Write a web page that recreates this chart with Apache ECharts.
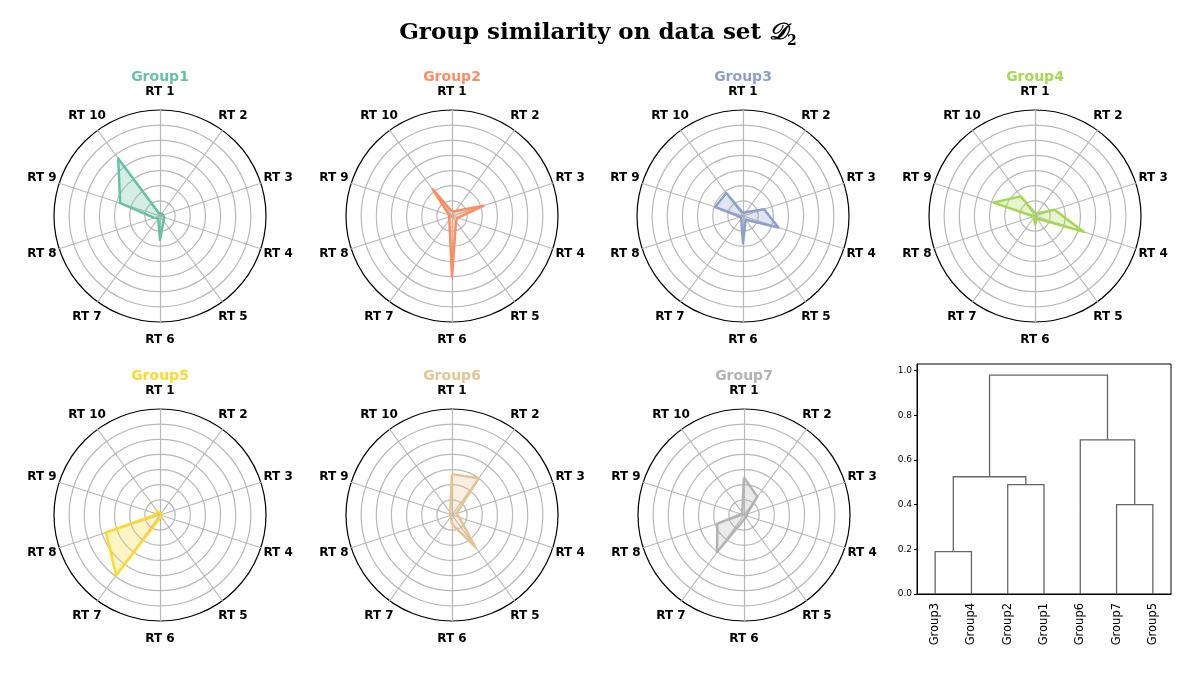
<!DOCTYPE html>
<html>
<head>
<meta charset="utf-8">
<script src="https://cdn.jsdelivr.net/npm/echarts@6/dist/echarts.min.js"></script>
<style>
  html, body { margin: 0; padding: 0; background: #fff; }
  #chart { width: 1200px; height: 673px; }
</style>
</head>
<body>
<div id="chart"></div>
<script>
// radar axes, clockwise from the top
const rtLabels = ['RT 1', 'RT 2', 'RT 3', 'RT 4', 'RT 5', 'RT 6', 'RT 7', 'RT 8', 'RT 9', 'RT 10'];
const groupNames = ['Group1', 'Group2', 'Group3', 'Group4', 'Group5', 'Group6', 'Group7'];

// values per RT 1..RT 10
const group1 = [0.01, 0.02, 0.02, 0.03, 0.04, 0.157, 0.02, 0.04, 0.276, 0.47];
const group2 = [0.03, 0.04, 0.22, 0.04, 0.045, 0.40, 0.03, 0.02, 0.02, 0.217];
const group3 = [0.02, 0.03, 0.146, 0.246, 0.03, 0.18, 0.02, 0.02, 0.193, 0.188];
const group4 = [0.02, 0.02, 0.135, 0.34, 0.02, 0.055, 0.01, 0.01, 0.287, 0.16];
const group5 = [0.01, 0.01, 0.01, 0.01, 0.01, 0.02, 0.493, 0.374, 0.02, 0.038];
const group6 = [0.27, 0.30, 0.03, 0.05, 0.263, 0.06, 0.01, 0.01, 0.01, 0.02];
const group7 = [0.248, 0.15, 0.02, 0.02, 0.02, 0.03, 0.304, 0.185, 0.02, 0.02];
const groupValues = [group1, group2, group3, group4, group5, group6, group7];
const radarMax = 0.7;
// RT labels sit just outside the outer ring, in radar units
const labelRadius = 0.82;

// dendrogram: leaves in display order, merges as [a, b, height]
// (0..6 = leaves, 7.. = clusters in merge order)
const leafOrder = ['Group3', 'Group4', 'Group2', 'Group1', 'Group6', 'Group7', 'Group5'];
const linkage = [
    [0, 1, 0.19],
    [2, 3, 0.49],
    [7, 8, 0.525],
    [5, 6, 0.40],
    [4, 10, 0.69],
    [9, 11, 0.98]
];
const yTicks = [0, 0.2, 0.4, 0.6, 0.8, 1.0];

const colors = ['#66c2a5', '#fc8d62', '#8da0cb', '#a6d854', '#ffd92f', '#e5c494', '#b3b3b3'];
const centers = [[160, 216], [452, 216], [743, 216], [1035, 216], [160, 515], [452, 515], [744, 515]];
const RADIUS = 106;

function hexToRgba(hex, a) {
    const n = parseInt(hex.slice(1), 16);
    return 'rgba(' + (n >> 16) + ',' + ((n >> 8) & 255) + ',' + (n & 255) + ',' + a + ')';
}

// echarts radar goes counter-clockwise, so flip the order after RT 1
function clockwise(arr) {
    return [arr[0]].concat(arr.slice(1).reverse());
}

function init() {
    const element = document.getElementById('chart');
    const instance = echarts.init(element);

    // dendrogram segments from the linkage
    const nodeX = leafOrder.map((_, i) => 5 + 10 * i);
    const nodeH = leafOrder.map(() => 0);
    const links = [];
    linkage.forEach(m => {
        const a = m[0], b = m[1], h = m[2];
        links.push([nodeX[a], nodeH[a], nodeX[b], nodeH[b], h]);
        nodeX.push((nodeX[a] + nodeX[b]) / 2);
        nodeH.push(h);
    });

    const titles = [{
        text: 'Group similarity on data set {d|𝒟}{s|2}',
        left: 598,
        top: 18,
        textAlign: 'center',
        padding: 0,
        textStyle: {
            fontFamily: 'DejaVu Serif',
            fontWeight: 'bold',
            fontSize: 23,
            color: '#000',
            lineHeight: 30,
            rich: {
                d: { fontFamily: 'DejaVu Serif', fontStyle: 'italic', fontSize: 23, color: '#000', lineHeight: 30 },
                s: { fontFamily: 'DejaVu Serif', fontWeight: 'bold', fontSize: 14, color: '#000', lineHeight: 18, verticalAlign: 'bottom' }
            }
        }
    }];
    const ringColors = ['#b8b8b8', '#b8b8b8', '#b8b8b8', '#b8b8b8', '#b8b8b8', '#b8b8b8', '#b8b8b8', '#000'];
    const radars = [];
    const polars = [];
    const angleAxes = [];
    const radiusAxes = [];
    const series = [];
    groupNames.forEach((name, i) => {
        titles.push({
            text: name,
            left: centers[i][0],
            top: centers[i][1] - 146,
            textAlign: 'center',
            padding: 0,
            textStyle: { color: colors[i], fontFamily: 'DejaVu Sans', fontWeight: 'bold', fontSize: 14 }
        });
        radars.push({
            center: centers[i],
            radius: RADIUS,
            shape: 'circle',
            startAngle: 90,
            splitNumber: 7,
            indicator: clockwise(rtLabels).map(t => ({ name: t, min: 0, max: radarMax })),
            axisName: { show: false },
            axisLine: { lineStyle: { color: '#b8b8b8', width: 1.2 } },
            axisTick: { show: false },
            axisLabel: { show: false },
            splitArea: { show: false },
            splitLine: { lineStyle: { color: ringColors, width: 1.2 } }
        });
        // polar twin, only used to place the RT labels centred around the ring
        polars.push({ center: centers[i], radius: RADIUS });
        angleAxes.push({
            polarIndex: i,
            type: 'category',
            data: rtLabels,
            startAngle: 90,
            clockwise: true,
            boundaryGap: false,
            axisLine: { show: false },
            axisTick: { show: false },
            axisLabel: { show: false },
            splitLine: { show: false }
        });
        radiusAxes.push({
            polarIndex: i,
            type: 'value',
            min: 0,
            max: radarMax,
            axisLine: { show: false },
            axisTick: { show: false },
            axisLabel: { show: false },
            splitLine: { show: false }
        });
        series.push({
            type: 'radar',
            radarIndex: i,
            symbol: 'none',
            silent: true,
            z: 3,
            lineStyle: { color: colors[i], width: 2.5 },
            areaStyle: { color: hexToRgba(colors[i], 0.4) },
            data: [{ value: clockwise(groupValues[i]), name: name }]
        });
        series.push({
            type: 'scatter',
            coordinateSystem: 'polar',
            polarIndex: i,
            symbolSize: 0,
            silent: true,
            clip: false,
            itemStyle: { opacity: 1 },
            data: rtLabels.map(t => [labelRadius, t]),
            label: {
                show: true,
                position: 'inside',
                formatter: p => p.value[1],
                color: '#000',
                opacity: 1,
                textBorderWidth: 0,
                fontFamily: 'DejaVu Sans',
                fontWeight: 'bold',
                fontSize: 12
            }
        });
    });

    series.push({
        type: 'custom',
        xAxisIndex: 0,
        yAxisIndex: 0,
        silent: true,
        encode: { x: [0, 2], y: [1, 3, 4] },
        data: links,
        renderItem: function (params, api) {
            const pts = [
                api.coord([api.value(0), api.value(1)]),
                api.coord([api.value(0), api.value(4)]),
                api.coord([api.value(2), api.value(4)]),
                api.coord([api.value(2), api.value(3)])
            ];
            return {
                type: 'polyline',
                shape: { points: pts },
                style: { stroke: '#666', lineWidth: 1.3, fill: null }
            };
        }
    });

    let option = {
        backgroundColor: '#fff',
        animation: false,
        title: titles,
        radar: radars,
        polar: polars,
        angleAxis: angleAxes,
        radiusAxis: radiusAxes,
        grid: {
            left: 917,
            top: 364,
            width: 254,
            height: 230,
            show: true,
            borderColor: '#000',
            borderWidth: 1,
            containLabel: false
        },
        xAxis: {
            type: 'value',
            min: 0,
            max: 10 * leafOrder.length,
            splitLine: { show: false },
            axisLine: { show: true, lineStyle: { color: '#000', width: 1 } },
            axisTick: { show: false },
            axisLabel: {
                customValues: leafOrder.map((_, i) => 5 + 10 * i),
                formatter: v => leafOrder[Math.round((v - 5) / 10)],
                rotate: 90,
                margin: 9,
                fontFamily: 'DejaVu Sans',
                fontSize: 11.5,
                color: '#000'
            }
        },
        yAxis: {
            type: 'value',
            min: 0,
            max: 1.03,
            splitLine: { show: false },
            axisLine: { show: true, lineStyle: { color: '#000', width: 1 } },
            axisTick: { show: true, length: 3, customValues: yTicks, lineStyle: { color: '#000' } },
            axisLabel: {
                customValues: yTicks,
                formatter: v => v.toFixed(1),
                margin: 5,
                fontFamily: 'DejaVu Sans',
                fontSize: 9,
                color: '#000'
            }
        },
        series: series
    };

    instance && instance.setOption(option);

    window.onresize = function () {
        instance.resize();
    };
}
init();
</script>
</body>
</html>
